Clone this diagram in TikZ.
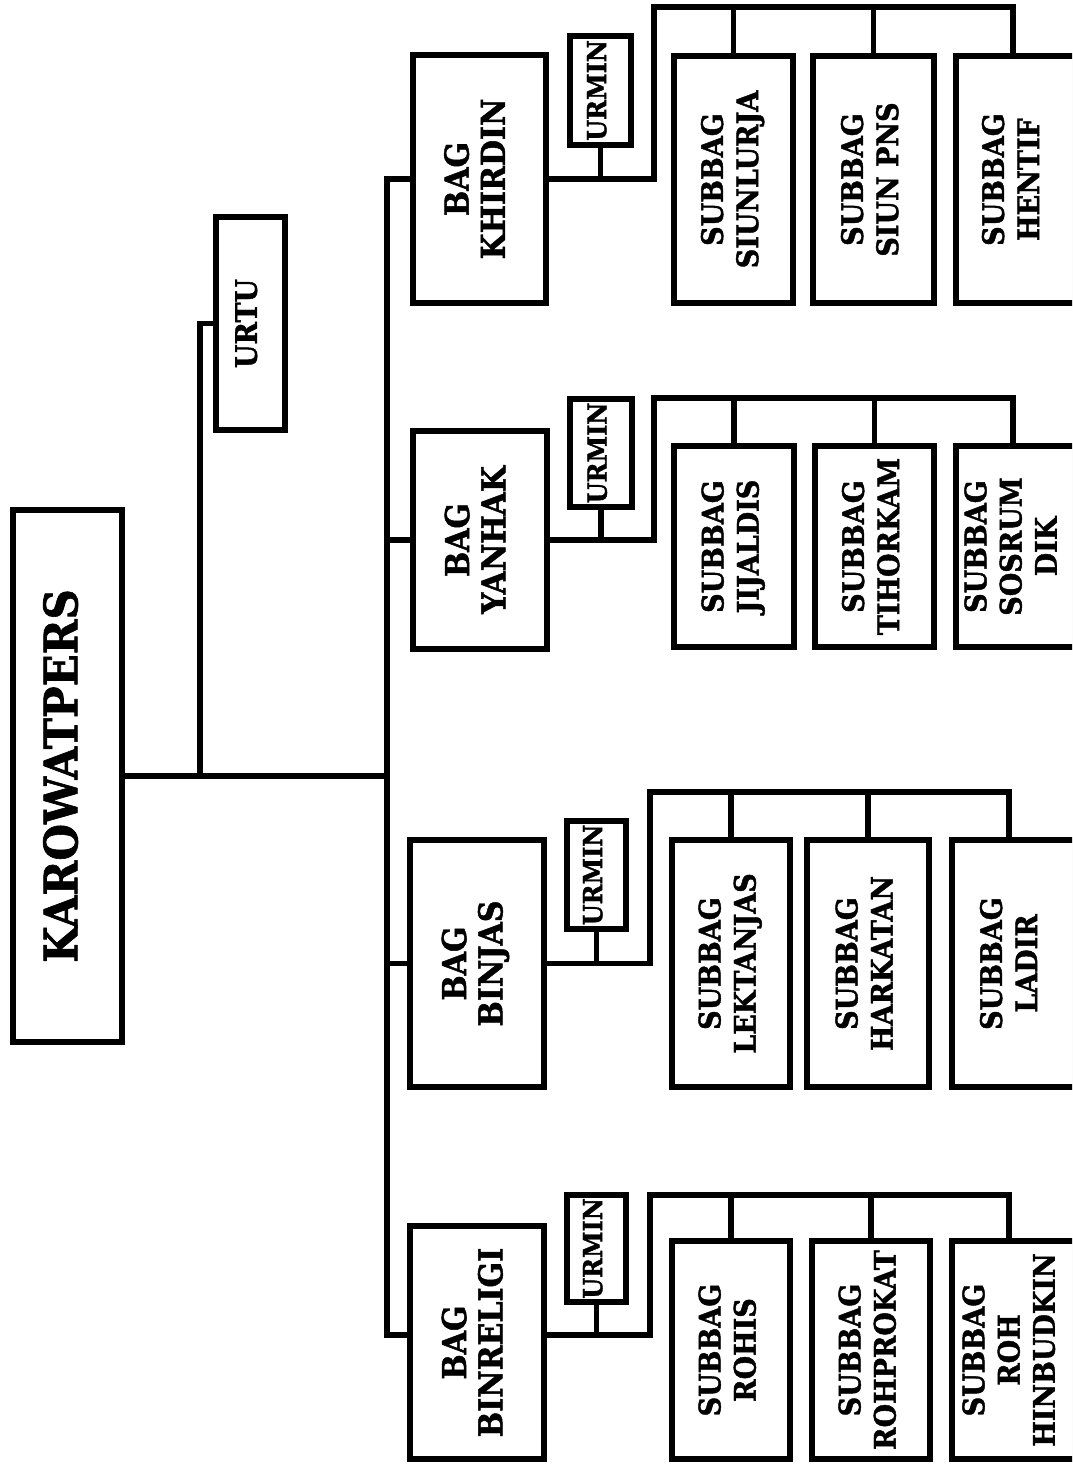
\documentclass[tikz,border=0pt]{standalone}
\usepackage{fontspec}
\setmainfont{DejaVu Serif}[BoldFont={DejaVu Serif Bold}]
\newfontfamily\heavyfont{DejaVu Serif Bold}[FakeBold=1.5]
\usepackage{graphicx}
\usetikzlibrary{shadows}
\newcommand{\rtxt}[3]{\rotatebox{90}{\scalebox{1}[1.1]{\fontsize{#1}{#2}\selectfont\begin{tabular}{@{}c@{}}#3\end{tabular}}}}
\begin{document}
\begin{tikzpicture}[x=1pt,y=-1pt,
  box/.style={draw=black, line width=6pt, fill=white, inner sep=0pt, font=\heavyfont,
    drop shadow={shadow xshift=2.5pt, shadow yshift=-2.5pt, fill=black!35, opacity=0.45}},
  conn/.style={draw=black, line width=5.5pt, line join=miter, line cap=rect}]
\useasboundingbox (0,0) rectangle (1072,1464);
\clip (0,0) rectangle (1072,1464);
\fill[white] (0,0) rectangle (1072,1464);

% top level
\node[box, minimum width=109pt, minimum height=532pt] (K) at (67.5,776) {\rtxt{42}{45}{KAROWATPERS}};
\node[box, minimum width=69pt, minimum height=213pt] (U) at (250.5,323.5) {\rtxt{27}{29}{URTU}};

% group 1
\node[box, minimum width=133pt, minimum height=248pt] (b1) at (479.5,179) {\rtxt{30}{33}{BAG\\KHIRDIN}};
\node[box, minimum width=61pt, minimum height=109pt] (u1) at (600.5,90.5) {\rtxt{24}{26}{URMIN}};
\node[box, minimum width=119pt, minimum height=247pt] (s11) at (733.5,179.5) {\rtxt{27}{32}{SUBBAG\\SIUNLURJA}};
\node[box, minimum width=121pt, minimum height=247pt] (s12) at (873.5,179.5) {\rtxt{27}{32}{SUBBAG\\SIUN PNS}};
\node[box, minimum width=141pt, minimum height=247pt] (s13) at (1026.5,179.5) {\hspace*{-24pt}\rtxt{27}{32}{SUBBAG\\HENTIF}};

% group 2
\node[box, minimum width=134pt, minimum height=218pt] (b2) at (480,540) {\rtxt{30}{33}{BAG\\YANHAK}};
\node[box, minimum width=62pt, minimum height=108pt] (u2) at (601,453) {\rtxt{24}{26}{URMIN}};
\node[box, minimum width=120pt, minimum height=201pt] (s21) at (734,546.5) {\rtxt{27}{32}{SUBBAG\\JIJALDIS}};
\node[box, minimum width=119pt, minimum height=201pt] (s22) at (874.5,546.5) {\rtxt{27}{32}{SUBBAG\\TIHORKAM}};
\node[box, minimum width=141pt, minimum height=201pt] (s23) at (1026.5,546.5) {\hspace*{-24pt}\rtxt{27}{32}{SUBBAG\\SOSRUM\\DIK}};

% group 3
\node[box, minimum width=134pt, minimum height=247pt] (b3) at (477,963.5) {\rtxt{30}{33}{BAG\\BINJAS}};
\node[box, minimum width=59pt, minimum height=108pt] (u3) at (596.5,875) {\rtxt{24}{26}{URMIN}};
\node[box, minimum width=118pt, minimum height=247pt] (s31) at (731,963.5) {\rtxt{27}{32}{SUBBAG\\LEKTANJAS}};
\node[box, minimum width=122pt, minimum height=247pt] (s32) at (868,963.5) {\rtxt{27}{32}{SUBBAG\\HARKATAN}};
\node[box, minimum width=145pt, minimum height=247pt] (s33) at (1024.5,963.5) {\hspace*{-24pt}\rtxt{27}{32}{SUBBAG\\LADIR}};

% group 4
\node[box, minimum width=134pt, minimum height=233pt] (b4) at (477,1342.5) {\rtxt{30}{33}{BAG\\BINRELIGI}};
\node[box, minimum width=59pt, minimum height=107pt] (u4) at (596.5,1248.5) {\rtxt{24}{26}{URMIN}};
\node[box, minimum width=118pt, minimum height=218pt] (s41) at (731,1350) {\rtxt{27}{32}{SUBBAG\\ROHIS}};
\node[box, minimum width=118pt, minimum height=218pt] (s42) at (871,1350) {\rtxt{27}{32}{SUBBAG\\ROHPROKAT}};
\node[box, minimum width=145pt, minimum height=218pt] (s43) at (1024.5,1350) {\hspace*{-24pt}\rtxt{27}{32}{SUBBAG\\ROH\\HINBUDKIN}};

% junction coordinates
\coordinate (jU) at (200,776);
\coordinate (sp4) at (387,1335);
\coordinate (t1) at (654,7);   \coordinate (r1) at (1013,7);
\coordinate (t2) at (654,398); \coordinate (r2) at (1013,398);
\coordinate (t3) at (650,792); \coordinate (r3) at (1009,792);
\coordinate (t4) at (650,1195);\coordinate (r4) at (1009,1195);

% connectors: top level
\draw[conn] (K.east) -- (K.east -| sp4);
\draw[conn] (jU) |- (U.west);
\draw[conn] (b1.west) -| (sp4) -- (sp4 -| b4.west);
\draw[conn] (b2.west) -- (b2.west -| sp4);
\draw[conn] (b3.west) -- (b3.west -| sp4);

% group 1
\draw[conn] (b1.east) -| (t1) -- (r1) -- (r1 |- s13.north);
\draw[conn] (u1.south) -- (u1.south |- b1.east);
\draw[conn] (s11.north) -- (s11.north |- t1);
\draw[conn] (s12.north) -- (s12.north |- t1);

% group 2
\draw[conn] (b2.east) -| (t2) -- (r2) -- (r2 |- s23.north);
\draw[conn] (u2.south) -- (u2.south |- b2.east);
\draw[conn] (s21.north) -- (s21.north |- t2);
\draw[conn] (s22.north) -- (s22.north |- t2);

% group 3
\draw[conn] (b3.east) -| (t3) -- (r3) -- (r3 |- s33.north);
\draw[conn] (u3.south) -- (u3.south |- b3.east);
\draw[conn] (s31.north) -- (s31.north |- t3);
\draw[conn] (s32.north) -- (s32.north |- t3);

% group 4
\draw[conn] (sp4 -| b4.east) -| (t4) -- (r4) -- (r4 |- s43.north);
\draw[conn] (u4.south) -- (u4.south |- sp4);
\draw[conn] (s41.north) -- (s41.north |- t4);
\draw[conn] (s42.north) -- (s42.north |- t4);
\end{tikzpicture}
\end{document}
